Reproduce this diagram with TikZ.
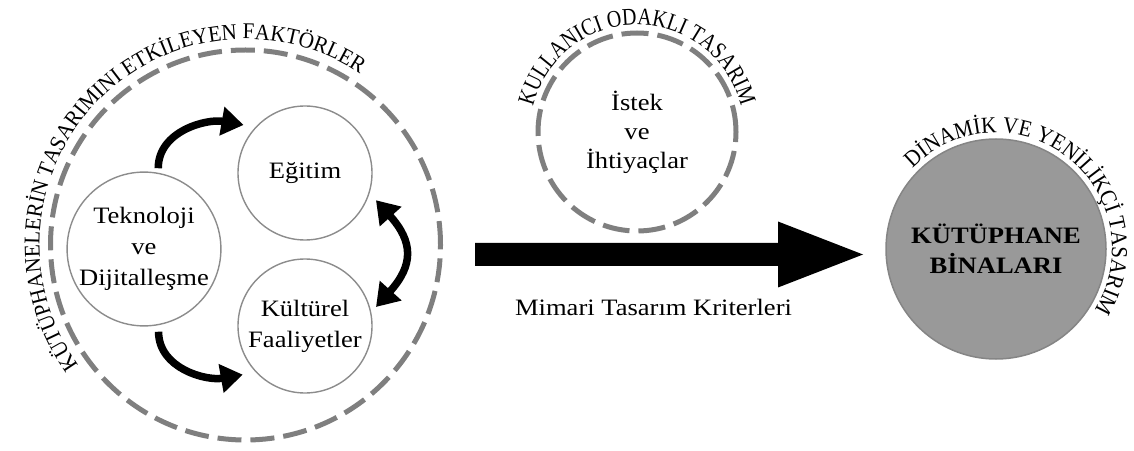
\documentclass[tikz,border=0pt]{standalone}
\usepackage{fontspec}
\setmainfont{Liberation Serif}[FakeStretch=1.13]
\newfontfamily\arcbig{Liberation Serif}[FakeStretch=0.94]
\newfontfamily\arcuser{Liberation Serif}[FakeStretch=0.83]
\newfontfamily\arcdyn{Liberation Serif}[FakeStretch=0.92]
\usetikzlibrary{arrows.meta,decorations.text,calc}
\definecolor{ringgray}{HTML}{7F7F7F}
\definecolor{thingray}{HTML}{8C8C8C}
\definecolor{kgray}{HTML}{999999}
\definecolor{kborder}{HTML}{858585}
\tikzset{
  factor/.style={circle, draw=thingray, line width=1.4pt, minimum size=134pt, inner sep=0pt, align=center, font=\fontsize{23.5}{31}\selectfont},
  dashring/.style={circle, draw=ringgray, line width=5pt, dash pattern=on 24pt off 9pt, inner sep=0pt},
  flow/.style={line width=7.5pt, -{Triangle[length=22pt,width=28pt]}},
  flowboth/.style={line width=7.5pt, {Triangle[length=22pt,width=28pt]}-{Triangle[length=22pt,width=28pt]}},
  arctext/.style={decorate, decoration={text along path, text align=center, text={#1}}}
}
\begin{document}
\begin{tikzpicture}[x=1pt,y=1pt]
\useasboundingbox (0,0) rectangle (1134,450);
% left group
\node[dashring, minimum size=390pt] (outer) at (245.5,205) {};
\node[factor, minimum size=152pt] (tek) at (144,201) {Teknoloji\\ve\\Dijitalleşme};
\node[factor] (egi) at (305,277) {Eğitim};
\node[factor] (kul) at (305,124) {Kültürel\\Faaliyetler};
\draw[flow] ($(tek)+(80:82)$) to[out=90,in=170] ($(egi)+(142:78)$);
\draw[flow] ($(tek)+(-80:84)$) to[out=-90,in=190] ($(kul)+(218:79)$);
\draw[flowboth] ($(egi)+(-21:76)$) to[out=-48,in=48,looseness=1.35] ($(kul)+(15:73.5)$);
\path[arctext={|\arcbig\fontsize{22.5}{22.5}\selectfont|KÜTÜPHANELERİN TASARIMINI ETKİLEYEN FAKTÖRLER}]
  ([shift={(236:206)}]outer.center) arc[start angle=236, end angle=36, radius=206];
% user centred design
\node[dashring, dash pattern=on 27pt off 9pt, minimum size=198pt, align=center, font=\fontsize{23.5}{29}\selectfont] (ist) at (637,318) {İstek\\ve\\İhtiyaçlar};
\path[arctext={|\arcuser\fontsize{24}{24}\selectfont|KULLANICI ODAKLI TASARIM}]
  ([shift={(175:107)}]ist.center) arc[start angle=175, end angle=5, radius=107];
% big arrow
\coordinate (bigS) at (475,195.5);
\coordinate (bigE) at (863,195.5);
\fill ([yshift=11.5pt]bigS) -- ([xshift=-85pt,yshift=11.5pt]bigE) -- ([xshift=-85pt,yshift=33pt]bigE) -- (bigE)
  -- ([xshift=-85pt,yshift=-33pt]bigE) -- ([xshift=-85pt,yshift=-11.5pt]bigE) -- ([yshift=-11.5pt]bigS) -- cycle;
\node[font=\fontsize{23.5}{30}\selectfont, anchor=base] (lbl) at (653.5,135) {Mimari Tasarım Kriterleri};
% library buildings
\node[circle, fill=kgray, draw=kborder, line width=1.5pt, minimum size=220pt, inner sep=0pt, align=center, font=\bfseries\fontsize{23.5}{30}\selectfont] (kut) at (996,201) {KÜTÜPHANE\\BİNALARI};
\path[arctext={|\arcdyn\fontsize{23}{23}\selectfont|DİNAMİK VE YENİLİKÇİ TASARIM}]
  ([shift={(162:116)}]kut.center) arc[start angle=162, end angle=-58, radius=116];
\end{tikzpicture}
\end{document}
